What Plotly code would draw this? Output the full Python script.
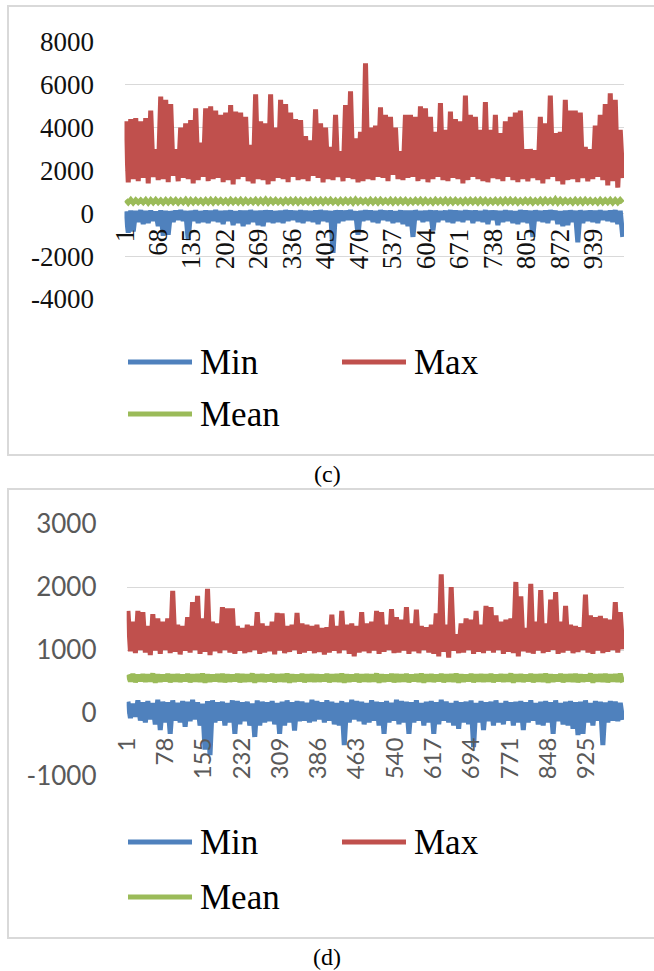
import plotly.graph_objects as go

# ---------------- DATA ----------------
N_CATS = 1000
BLOCK = 10  # each pair of values (peak, trough) below covers a block of 10 categories

# Panel (c)
c_tick_labels = [1, 68, 135, 202, 269, 336, 403, 470, 537, 604, 671, 738, 805, 872, 939]
c_y_ticks = [-4000, -2000, 0, 2000, 4000, 6000, 8000]

max_c_peaks = [4300, 4400, 4450, 4300, 4450, 4800, 3000, 5450, 5300, 5100,
               3000, 4000, 4200, 4350, 4900, 3300, 4900, 5000, 4800, 4600,
               4700, 5050, 4750, 4700, 4500, 3200, 5560, 4300, 4200, 5560,
               4000, 5300, 5100, 4700, 4400, 4350, 3600, 3400, 4850, 4200,
               4000, 3100, 4600, 2900, 5050, 5700, 3500, 3800, 7000, 4000,
               4100, 4950, 4600, 4500, 4000, 2900, 4600, 4600, 4500, 5000,
               4900, 4500, 3800, 5150, 3900, 4750, 4400, 4300, 5500, 4600,
               4500, 3900, 5200, 3900, 4600, 3750, 4300, 4500, 4700, 4800,
               3000, 3000, 2950, 4500, 4200, 5500, 3750, 3800, 5300, 4800,
               4800, 4700, 3100, 3000, 4100, 4600, 5100, 5600, 5300, 3900]
max_c_troughs = [1450, 1600, 1500, 1650, 1400, 1700, 1550, 1600, 1450, 1750,
                 1500, 1650, 1600, 1400, 1550, 1700, 1500, 1600, 1650, 1450,
                 1550, 1350, 1600, 1700, 1500, 1400, 1600, 1550, 1350, 1500,
                 1650, 1600, 1450, 1700, 1550, 1600, 1500, 1750, 1650, 1450,
                 1600, 1550, 1700, 1500, 1650, 1600, 1450, 1500, 1600, 1550,
                 1700, 1650, 1500, 1800, 1600, 1550, 1650, 1700, 1500, 1600,
                 1450, 1600, 1700, 1550, 1500, 1650, 1600, 1400, 1550, 1700,
                 1600, 1500, 1450, 1650, 1600, 1500, 1700, 1550, 1450, 1600,
                 1500, 1650, 1550, 1400, 1600, 1700, 1500, 1350, 1550, 1600,
                 1450, 1650, 1500, 1600, 1700, 1550, 1300, 1500, 1200, 1650]
mean_c_peaks = [630, 640, 625, 620, 635, 630, 640, 620, 630, 635,
                630, 620, 640, 630, 635, 620, 630, 640, 635, 630,
                620, 635, 630, 640, 630, 620, 635, 630, 650, 630,
                635, 620, 630, 635, 640, 630, 620, 635, 630, 635,
                630, 640, 620, 630, 635, 630, 650, 630, 620, 635,
                630, 635, 620, 640, 630, 635, 630, 620, 635, 640,
                630, 620, 635, 630, 640, 630, 635, 620, 630, 635,
                630, 640, 630, 620, 635, 630, 635, 640, 630, 620,
                635, 630, 620, 635, 640, 630, 660, 635, 630, 620,
                635, 630, 640, 630, 620, 635, 630, 640, 630, 635]
mean_c_troughs = [500, 490, 505, 500, 485, 500, 505, 490, 500, 505,
                  490, 500, 480, 500, 505, 490, 500, 490, 505, 500,
                  490, 505, 500, 490, 500, 505, 490, 500, 490, 505,
                  500, 490, 505, 500, 490, 500, 505, 490, 500, 490,
                  505, 500, 490, 500, 505, 490, 500, 505, 490, 500,
                  490, 505, 500, 490, 500, 505, 490, 500, 505, 490,
                  500, 490, 505, 500, 490, 500, 505, 490, 500, 505,
                  490, 500, 490, 505, 500, 490, 500, 505, 490, 500,
                  505, 490, 500, 490, 505, 500, 490, 500, 505, 490,
                  500, 490, 505, 500, 490, 500, 505, 490, 500, 505]
min_c_peaks = [100, 130, 120, 150, 110, 130, 90, 140, 120, 100,
               130, 150, 110, 120, 140, 100, 130, 120, 150, 110,
               120, 140, 100, 130, 120, 150, 110, 120, 140, 130,
               100, 120, 150, 130, 110, 140, 120, 100, 130, 150,
               120, 110, 140, 130, 120, 150, 100, 120, 140, 130,
               110, 150, 120, 130, 100, 140, 120, 130, 150, 110,
               120, 140, 130, 100, 120, 150, 130, 110, 140, 120,
               130, 100, 150, 120, 130, 110, 140, 120, 100, 150,
               130, 120, 140, 110, 130, 150, 120, 100, 130, 140,
               120, 150, 110, 130, 120, 140, 100, 130, 150, 120]
min_c_troughs = [-900, -850, -400, -500, -450, -350, -600, -1050, -1000, -400,
                 -300, -350, -1250, -350, -450, -400, -450, -350, -400, -500,
                 -350, -550, -450, -600, -500, -400, -550, -600, -400, -450,
                 -400, -450, -350, -300, -400, -450, -350, -400, -500, -350,
                 -400, -1850, -450, -350, -300, -300, -1000, -350, -300, -400,
                 -450, -300, -350, -450, -400, -500, -600, -1100, -300, -400,
                 -350, -800, -400, -300, -400, -450, -350, -400, -300, -450,
                 -350, -400, -500, -300, -550, -400, -350, -450, -500, -400,
                 -450, -1100, -350, -400, -450, -300, -500, -600, -550, -400,
                 -1350, -450, -350, -400, -450, -300, -350, -400, -500, -1100]

# Panel (d)
d_tick_labels = [1, 78, 155, 232, 309, 386, 463, 540, 617, 694, 771, 848, 925]
d_y_ticks = [-1000, 0, 1000, 2000, 3000]

max_d_peaks = [1620, 1450, 1620, 1600, 1380, 1570, 1500, 1450, 1500, 1940,
               1400, 1380, 1520, 1760, 1860, 1500, 1970, 1450, 1420, 1680,
               1660, 1660, 1380, 1350, 1400, 1380, 1600, 1420, 1380, 1450,
               1590, 1580, 1380, 1400, 1590, 1420, 1400, 1380, 1400, 1350,
               1360, 1560, 1380, 1620, 1400, 1420, 1380, 1600, 1420, 1450,
               1620, 1600, 1400, 1650, 1520, 1480, 1680, 1420, 1640, 1380,
               1360, 1400, 1580, 2200, 1400, 2000, 1250, 1420, 1500, 1480,
               1620, 1400, 1700, 1680, 1550, 1450, 1480, 1500, 2080, 1850,
               1350, 2050, 1450, 1950, 1420, 1800, 1920, 1450, 1700, 1400,
               1380, 1360, 1880, 1550, 1520, 1540, 1500, 1480, 1760, 1600]
max_d_troughs = [980, 950, 1000, 960, 920, 990, 940, 1000, 950, 970,
                 930, 990, 960, 1000, 940, 970, 920, 980, 950, 1000,
                 960, 940, 990, 950, 970, 1000, 940, 960, 980, 930,
                 990, 950, 970, 1000, 940, 960, 990, 950, 970, 930,
                 960, 990, 950, 1000, 940, 900, 960, 980, 950, 990,
                 940, 970, 1000, 950, 960, 990, 940, 980, 950, 1000,
                 960, 940, 900, 970, 880, 990, 950, 960, 1000, 940,
                 970, 950, 990, 960, 1000, 940, 970, 950, 900, 980,
                 960, 940, 990, 950, 970, 1000, 940, 960, 990, 950,
                 970, 1000, 960, 940, 990, 950, 970, 1000, 960, 1010]
mean_d_peaks = [610, 620, 605, 615, 610, 625, 610, 605, 620, 610,
                615, 605, 620, 610, 615, 625, 610, 605, 615, 620,
                610, 605, 620, 615, 610, 625, 610, 615, 605, 620,
                610, 615, 625, 610, 605, 620, 610, 615, 610, 605,
                620, 610, 615, 625, 610, 605, 620, 610, 615, 610,
                625, 610, 605, 620, 615, 610, 620, 605, 615, 625,
                610, 615, 605, 620, 610, 615, 625, 610, 605, 620,
                610, 615, 610, 620, 605, 615, 610, 625, 610, 615,
                605, 620, 610, 615, 625, 610, 605, 620, 610, 615,
                620, 610, 605, 625, 610, 615, 620, 610, 615, 625]
mean_d_troughs = [500, 490, 505, 495, 500, 485, 500, 505, 490, 500,
                  495, 505, 490, 500, 495, 485, 500, 505, 495, 490,
                  500, 505, 490, 495, 500, 485, 500, 495, 505, 490,
                  500, 495, 485, 500, 505, 490, 500, 495, 500, 505,
                  490, 500, 495, 485, 500, 505, 490, 500, 495, 500,
                  485, 500, 505, 490, 495, 500, 490, 505, 495, 485,
                  500, 495, 505, 490, 500, 495, 485, 500, 505, 490,
                  500, 495, 500, 490, 505, 495, 500, 485, 500, 495,
                  505, 490, 500, 495, 485, 500, 505, 490, 500, 495,
                  490, 500, 505, 485, 500, 495, 490, 500, 495, 485]
min_d_peaks = [180, 150, 200, 170, 190, 160, 210, 180, 170, 200,
               160, 190, 180, 210, 170, 150, 190, 200, 170, 180,
               160, 200, 190, 170, 180, 150, 200, 180, 170, 190,
               160, 180, 200, 170, 190, 180, 160, 210, 190, 170,
               200, 180, 160, 190, 170, 210, 190, 180, 160, 200,
               180, 170, 190, 160, 210, 190, 180, 170, 200, 160,
               180, 190, 170, 210, 180, 160, 190, 170, 180, 200,
               160, 190, 170, 180, 200, 160, 190, 170, 180, 190,
               170, 200, 160, 180, 190, 170, 200, 160, 180, 190,
               170, 180, 200, 160, 190, 180, 170, 190, 180, 160]
min_d_troughs = [-80, -60, -120, -150, -100, -180, -270, -150, -330, -120,
                 -150, -220, -130, -100, -200, -580, -670, -150, -120, -200,
                 -150, -330, -180, -130, -200, -380, -200, -150, -130, -180,
                 -330, -200, -150, -280, -130, -120, -150, -130, -100, -150,
                 -120, -180, -200, -510, -150, -100, -130, -180, -150, -120,
                 -200, -330, -150, -120, -180, -150, -330, -150, -120, -200,
                 -150, -330, -180, -120, -150, -200, -250, -150, -180, -540,
                 -150, -270, -130, -200, -150, -180, -120, -200, -150, -270,
                 -150, -120, -180, -200, -150, -330, -130, -180, -200, -250,
                 -350, -330, -150, -200, -120, -510, -150, -120, -130, -110]

# ---------------- STYLE ----------------
BLUE, RED, GREEN = "#4F81BD", "#C0504D", "#9BBB59"
GRID = "#d9d9d9"
W, H = 654, 971


def px(x):
    return x / W


def py(y):
    return 1 - y / H


def zigzag(peaks, troughs):
    xs, ys = [], []
    for k, (hi, lo) in enumerate(zip(peaks, troughs)):
        xs += [k * BLOCK + 3, k * BLOCK + 8]
        ys += [hi, lo]
    return xs, ys


fig = go.Figure()

panels = [
    ("x", "y", [("Min", min_c_peaks, min_c_troughs, BLUE),
                ("Max", max_c_peaks, max_c_troughs, RED),
                ("Mean", mean_c_peaks, mean_c_troughs, GREEN)]),
    ("x2", "y2", [("Min", min_d_peaks, min_d_troughs, BLUE),
                  ("Max", max_d_peaks, max_d_troughs, RED),
                  ("Mean", mean_d_peaks, mean_d_troughs, GREEN)]),
]
for xa, ya, series in panels:
    for name, pk, tr, col in series:
        xs, ys = zigzag(pk, tr)
        fig.add_trace(go.Scatter(x=xs, y=ys, mode="lines", name=name,
                                 line=dict(color=col, width=5),
                                 xaxis=xa, yaxis=ya, showlegend=False))

serif = "Liberation Serif"
sans = "Lato"


def hyphen(v):
    return str(v).replace("\u2212", "-")


fig.update_layout(
    width=W, height=H,
    margin=dict(l=0, r=0, t=0, b=0, autoexpand=False),
    paper_bgcolor="white", plot_bgcolor="white",
    showlegend=False,
    xaxis=dict(domain=[px(124.5), px(624)], range=[0.5, N_CATS + 0.5],
               anchor="free", position=py(213), automargin=False,
               tickmode="array", tickvals=c_tick_labels,
               ticktext=[str(v) for v in c_tick_labels],
               tickangle=-90, ticks="outside", ticklen=4, tickcolor="rgba(0,0,0,0)",
               tickfont=dict(family=serif, size=27, color="#111111"),
               showgrid=False, zeroline=False, showline=False),
    yaxis=dict(domain=[py(299), py(42)], range=[-4000, 8000], automargin=False,
               tickmode="array", tickvals=c_y_ticks,
               ticktext=[hyphen(v) for v in c_y_ticks],
               ticks="outside", ticklen=24, tickcolor="rgba(0,0,0,0)",
               tickfont=dict(family=serif, size=27, color="#111111"),
               showgrid=True, gridcolor=GRID, gridwidth=1,
               zeroline=False, showline=False, anchor="x"),
    xaxis2=dict(domain=[px(126.7), px(624)], range=[0.5, N_CATS + 0.5],
                anchor="free", position=py(713), automargin=False,
                tickmode="array", tickvals=d_tick_labels,
                ticktext=[str(v) for v in d_tick_labels],
                tickangle=-90, ticks="outside", ticklen=14, tickcolor="rgba(0,0,0,0)",
                tickfont=dict(family=sans, size=24, color="#595959"),
                showgrid=False, zeroline=False, showline=False),
    yaxis2=dict(domain=[py(776), py(524)], range=[-1000, 3000], automargin=False,
                tickmode="array", tickvals=d_y_ticks,
                ticktext=[hyphen(v) for v in d_y_ticks],
                ticks="outside", ticklen=24, tickcolor="rgba(0,0,0,0)",
                tickfont=dict(family=sans, size=26, color="#595959"),
                showgrid=True, gridcolor=GRID, gridwidth=1,
                zeroline=False, showline=False, anchor="x2"),
)

shapes = []
annotations = []
# panel frames
for top, bottom in [(6, 455), (489, 938)]:
    shapes.append(dict(type="rect", xref="paper", yref="paper",
                       x0=px(8), x1=px(670), y0=py(bottom), y1=py(top),
                       line=dict(color=GRID, width=2), fillcolor="rgba(0,0,0,0)",
                       layer="below"))

# manual legends
for row1, row2 in [(362, 414), (842, 897)]:
    items = [("Min", BLUE, 128, 192, row1),
             ("Max", RED, 342, 406, row1),
             ("Mean", GREEN, 128, 192, row2)]
    for name, col, x0, x1, yy in items:
        shapes.append(dict(type="line", xref="paper", yref="paper",
                           x0=px(x0), x1=px(x1), y0=py(yy), y1=py(yy),
                           line=dict(color=col, width=5)))
        annotations.append(dict(xref="paper", yref="paper", x=px(x1 + 6), y=py(yy),
                                text=name, showarrow=False, xanchor="left",
                                yanchor="middle",
                                font=dict(family=serif, size=35, color="#000000")))

for label, yy in [("(c)", 474), ("(d)", 957)]:
    annotations.append(dict(xref="paper", yref="paper", x=0.5, y=py(yy), text=label,
                            showarrow=False, xanchor="center", yanchor="middle",
                            font=dict(family=serif, size=24, color="#000000")))

fig.update_layout(shapes=shapes, annotations=annotations)
fig.write_html("out.html")
